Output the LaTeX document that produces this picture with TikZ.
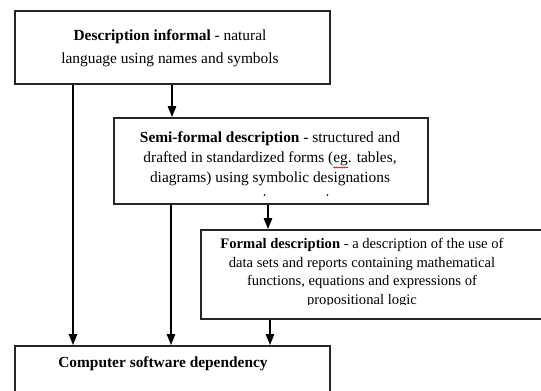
\documentclass[tikz,border=0pt]{standalone}
\usepackage{fontspec}
\setmainfont{Liberation Serif}
\usetikzlibrary{arrows.meta,decorations.pathmorphing}
\begin{document}
\begin{tikzpicture}[x=1pt,y=-1pt,
  box/.style={draw=black!85,line width=1.6pt,anchor=north west,inner sep=0pt,fill=white},
  txt/.style={align=center,inner sep=0pt,anchor=base,font=\fontsize{15.4}{#1}\selectfont},
  arr/.style={line width=1.2pt,-{Triangle[length=11pt,width=8.5pt]}}]
\clip (0,0) rectangle (541,391);
\useasboundingbox (0,0) rectangle (541,391);
\node[box,minimum width=315pt,minimum height=73pt] (b1) at (14,10) {};
\node[box,minimum width=314pt,minimum height=86pt] (b2) at (113,117) {};
\node[box,minimum width=360pt,minimum height=89pt] (b3) at (200,229) {};
\node[box,minimum width=315pt,minimum height=80pt] (b4) at (14,345) {};
\node[txt=23] (t1) at (170,63.5) {\textbf{Description informal} - natural\\language using names and symbols};
\node[txt=20] (t2) at (270,182.5) {\textbf{Semi-formal description} - structured and\\drafted in standardized forms (eg. tables,\\diagrams) using symbolic designations};
\begin{scope}
\clip (201,230) rectangle (541,304.5);
\node[txt=18.4,font=\fontsize{14.6}{18.4}\selectfont] (t3) at (362,304) {\textbf{Formal description} - a description of the use of\\data sets and reports containing mathematical\\functions, equations and expressions of\\propositional logic};
\end{scope}
\node[txt=15] (t4) at (163,367.5) {\textbf{Computer software dependency}};
\draw[red,line width=0.6pt,decorate,decoration={snake,amplitude=0.6pt,segment length=2.5pt}] (333,167.5) -- (348,167.5);
\draw[line width=0.8pt] (265,194) -- (264,196);
\draw[line width=0.8pt] (328,194) -- (327,196);
\draw[arr] ([xshift=59pt]b1.south west) -- ([xshift=59pt]b1.south west |- b4.north);
\draw[arr] ([xshift=158pt]b1.south west) -- ([xshift=158pt]b1.south west |- b2.north);
\draw[arr] ([xshift=58pt]b2.south west) -- ([xshift=58pt]b2.south west |- b4.north);
\draw[arr] ([xshift=155pt]b2.south west) -- ([xshift=155pt]b2.south west |- b3.north);
\draw[arr] ([xshift=70pt]b3.south west) -- ([xshift=70pt]b3.south west |- b4.north);
\end{tikzpicture}
\end{document}
